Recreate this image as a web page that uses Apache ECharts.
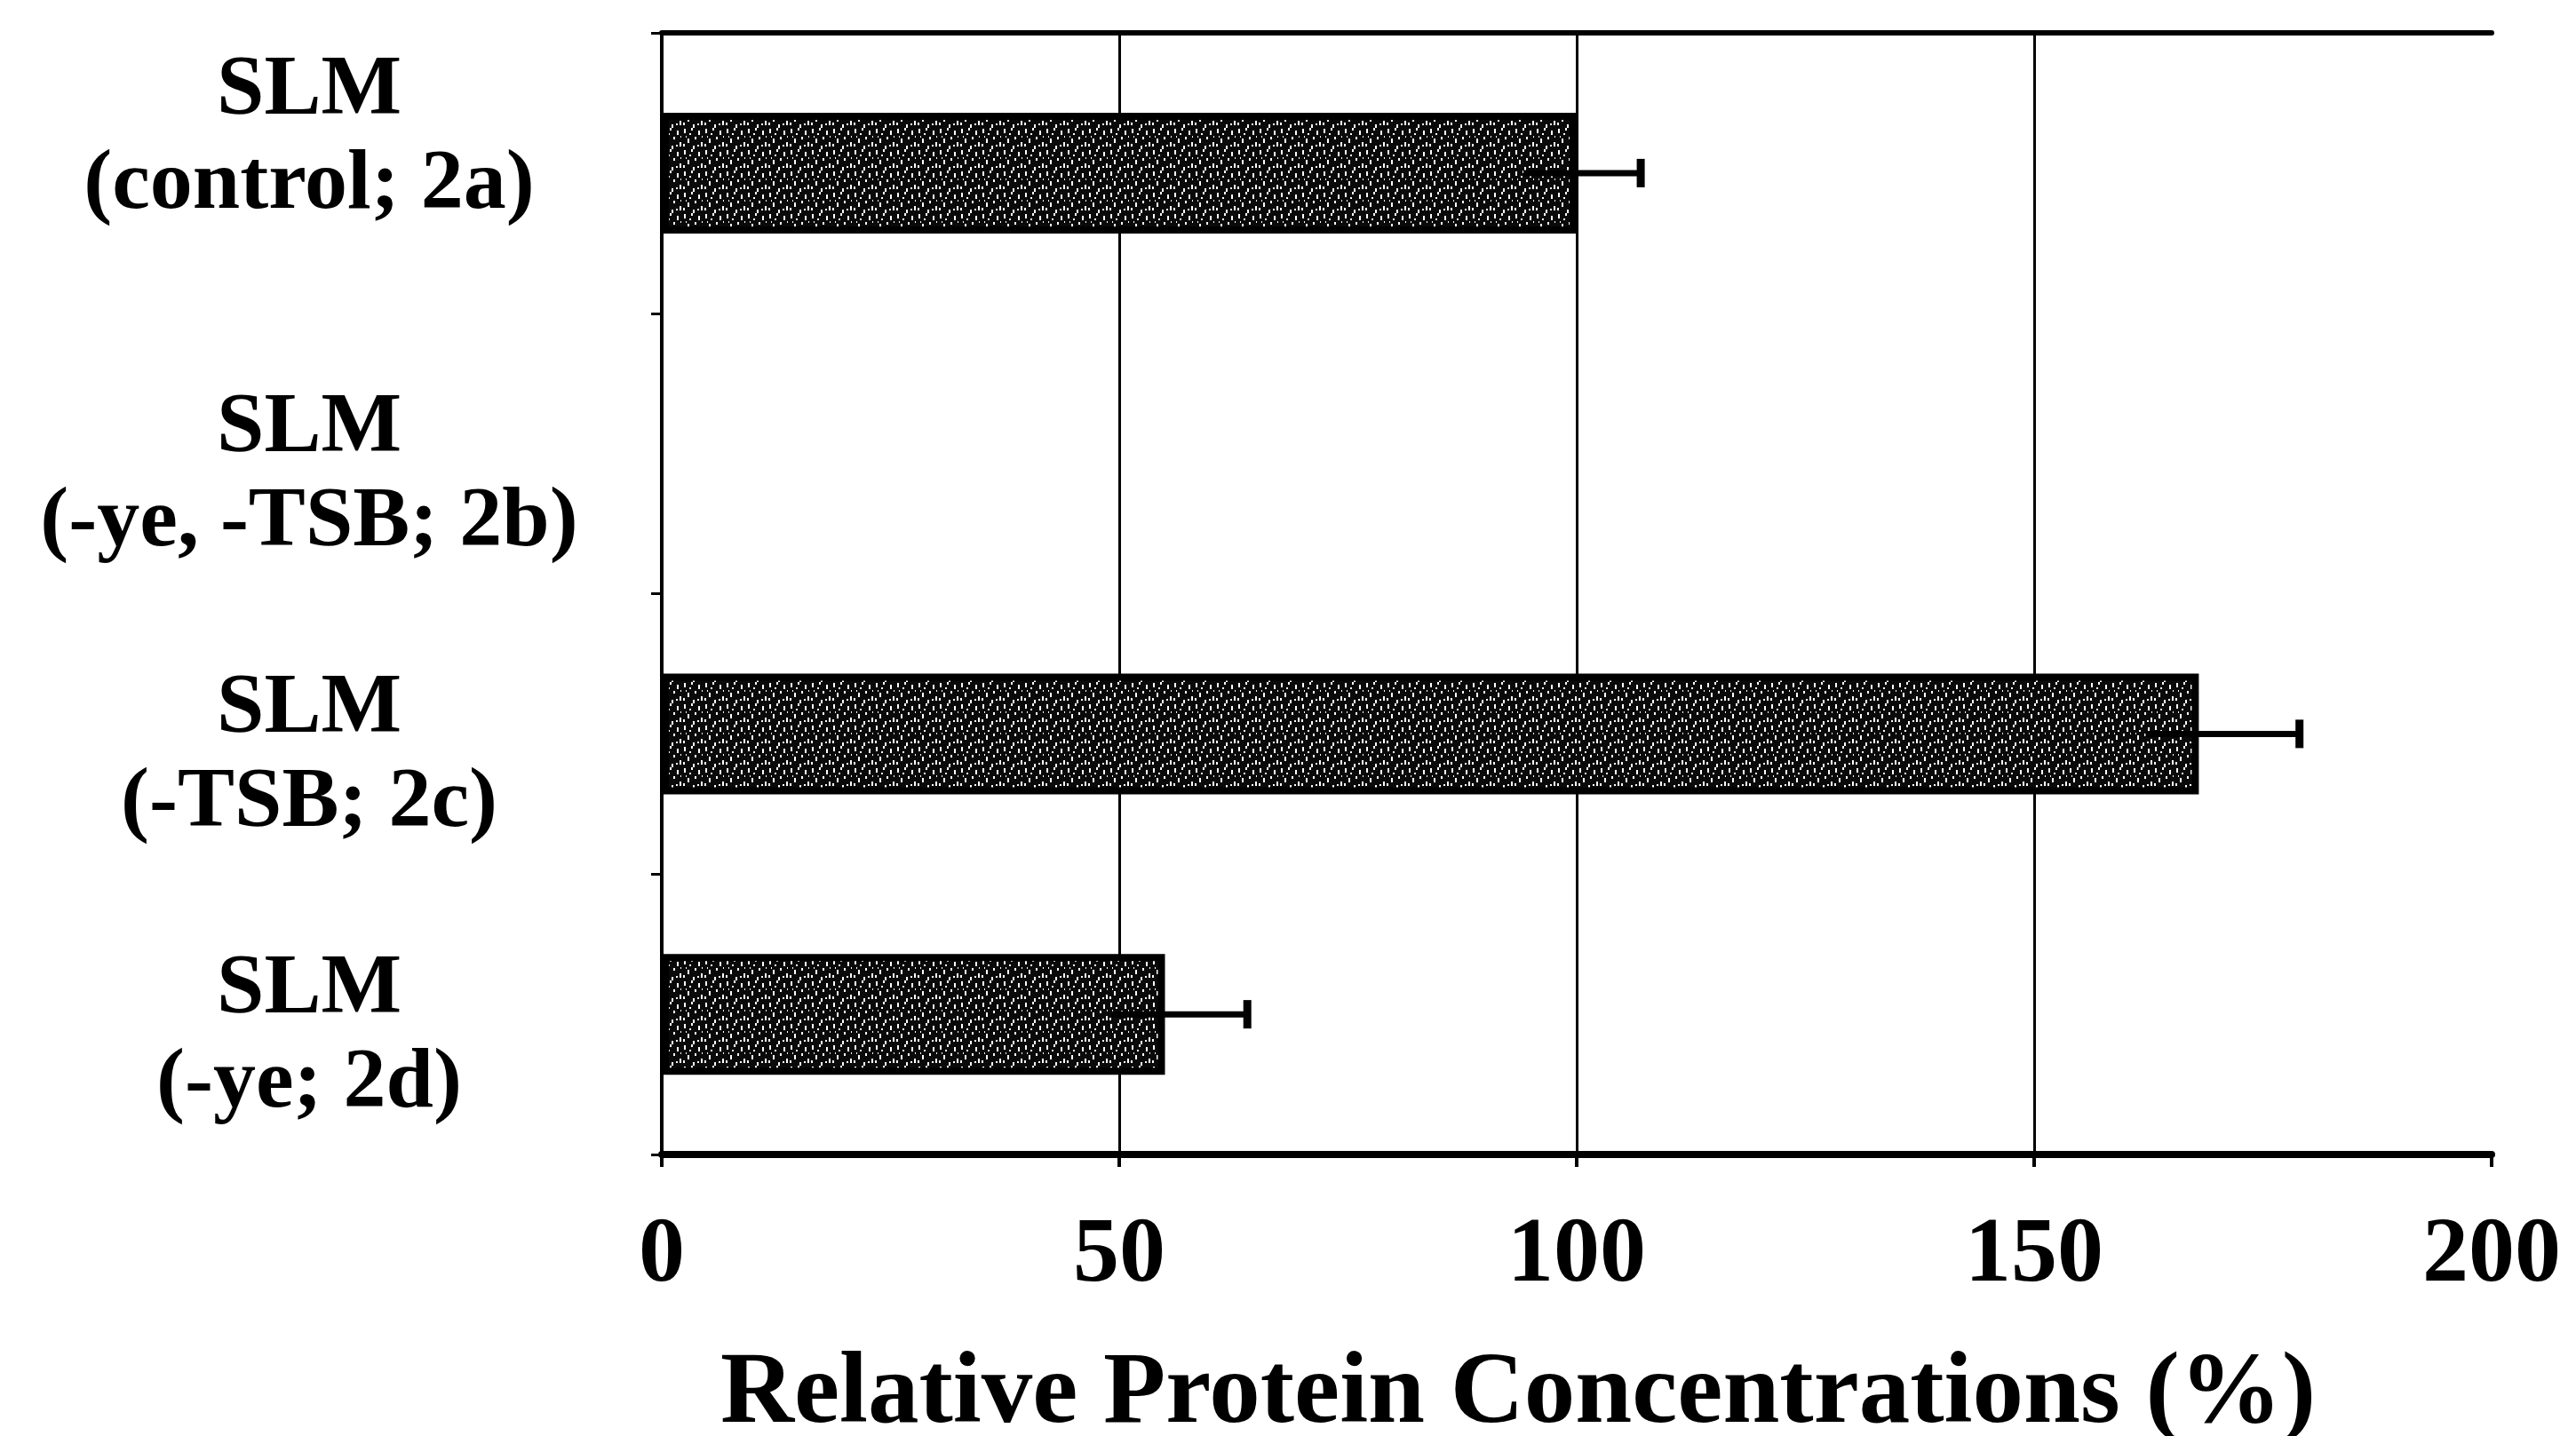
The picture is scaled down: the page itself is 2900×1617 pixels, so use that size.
<!DOCTYPE html>
<html>
<head>
<meta charset="utf-8">
<script src="https://cdn.jsdelivr.net/npm/echarts@6/dist/echarts.min.js"></script>
<style>
html,body{margin:0;padding:0;background:#fff;}
#chart{width:2900px;height:1617px;}
</style>
</head>
<body>
<div id="chart"></div>
<script>
// ---- data ----
const categories = ['SLM\n(control; 2a)', 'SLM\n(-ye, -TSB; 2b)', 'SLM\n(-TSB; 2c)', 'SLM\n(-ye; 2d)'];
const values = [100, 0, 168, 55];
const errors = [7, 0, 11, 9];
const xTicks = [0, 50, 100, 150, 200];
const xTitle = 'Relative Protein Concentrations (%)';

// ---- style helpers ----
function makePattern() {
  const c = document.createElement('canvas');
  c.width = 24; c.height = 24;
  const g = c.getContext('2d');
  g.fillStyle = '#0a0a0a';
  g.fillRect(0, 0, 24, 24);
  g.fillStyle = '#fff';
  const marks = [[2,1,2,5],[10,0,2,3],[18,3,2,5],[6,12,2,5],[14,10,2,3],[21,16,2,5],[1,18,2,3],[12,20,2,4],[8,6,2,2],[17,19,2,2],[4,9,1,2],[22,9,1,2]];
  marks.forEach(m => g.fillRect(m[0], m[1], m[2], m[3]));
  return c;
}
const pattern = { image: makePattern(), repeat: 'repeat' };

const chart = echarts.init(document.getElementById('chart'), null, { renderer: 'canvas' });
chart.setOption({
  animation: false,
  backgroundColor: '#fff',
  grid: { left: 745, right: 95, top: 37, bottom: 317, containLabel: false, outerBoundsMode: 'none' },
  xAxis: [{
    type: 'value', min: 0, max: 200, interval: 50, position: 'bottom',
    axisLine: { show: true, lineStyle: { color: '#000', width: 8 } },
    axisTick: { show: true, length: 14, lineStyle: { color: '#000', width: 4 } },
    axisLabel: {
      margin: 63, color: '#000', fontFamily: 'Liberation Serif', fontSize: 104, fontWeight: 'bold',
      formatter: v => xTicks.includes(v) ? String(v) : ''
    },
    splitLine: { show: true, showMinLine: false, showMaxLine: false, lineStyle: { color: '#000', width: 3 } },
    name: xTitle, nameLocation: 'middle', nameGap: 214,
    nameTextStyle: { color: '#000', fontFamily: 'Liberation Serif', fontWeight: 'bold', fontSize: 115, padding: [0, 132, 0, 0] }
  }, {
    type: 'value', min: 0, max: 200, interval: 50, position: 'top',
    axisLine: { show: true, lineStyle: { color: '#000', width: 6 } },
    axisTick: { show: false }, axisLabel: { show: false }, splitLine: { show: false }
  }],
  yAxis: {
    type: 'category', inverse: true,
    data: categories,
    axisLine: { show: true, lineStyle: { color: '#000', width: 4 } },
    axisTick: { show: true, length: 12, lineStyle: { color: '#000', width: 3 } },
    axisLabel: {
      margin: 397, align: 'center', color: '#000', fontFamily: 'Liberation Serif',
      fontSize: 96, fontWeight: 'bold', lineHeight: 106,
      formatter: function (value, idx) {
        return idx === 0 ? value + '\n{s1| }' : '{s2| }\n' + value;
      },
      rich: {
        s1: { lineHeight: 78, fontSize: 10 },
        s2: { lineHeight: 52, fontSize: 10 }
      }
    },
    splitLine: { show: false }
  },
  series: [{
    type: 'bar', xAxisIndex: 0, barWidth: 136,
    data: values.map(v => ({ value: v, itemStyle: v === 0 ? { borderWidth: 0 } : {} })),
    itemStyle: { color: pattern, borderColor: '#000', borderWidth: 8 },
    z: 3
  }, {
    type: 'custom', xAxisIndex: 0,
    data: values.map((v, i) => [i, v, errors[i]]),
    encode: { x: 1, y: 0 },
    renderItem: function (params, api) {
      const cat = api.value(0), v = api.value(1), e = api.value(2);
      if (!e) return null;
      const p0 = api.coord([v, cat]);
      const p1 = api.coord([v + e, cat]);
      return {
        type: 'group',
        children: [
          { type: 'line', shape: { x1: p0[0] - 60, y1: p0[1], x2: p1[0], y2: p1[1] }, style: { stroke: '#000', lineWidth: 7 } },
          { type: 'line', shape: { x1: p1[0], y1: p1[1] - 16, x2: p1[0], y2: p1[1] + 16 }, style: { stroke: '#000', lineWidth: 9 } }
        ]
      };
    },
    z: 4
  }]
});
</script>
</body>
</html>
